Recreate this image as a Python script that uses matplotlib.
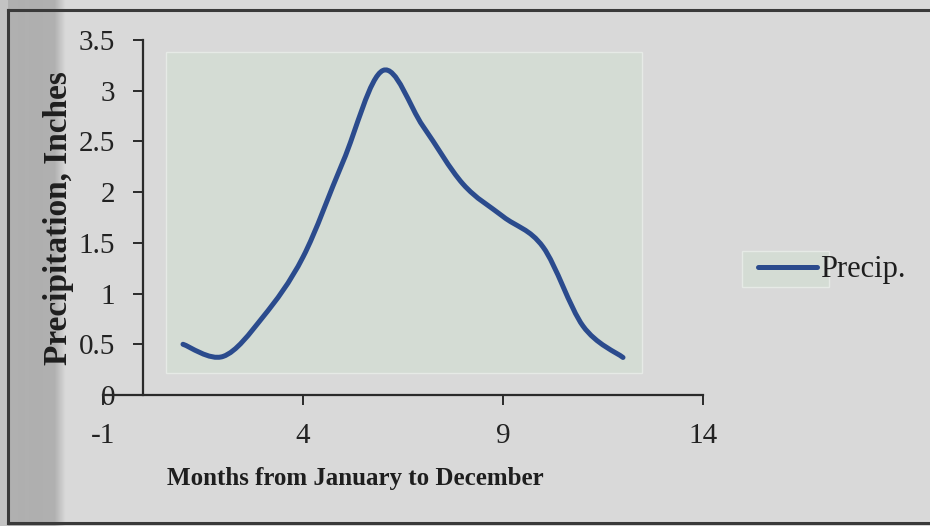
import numpy as np
import matplotlib
matplotlib.use("Agg")
import matplotlib.pyplot as plt
from matplotlib.path import Path
from matplotlib.patches import PathPatch, Rectangle
from matplotlib.lines import Line2D

plt.rcParams['font.family'] = ['Liberation Serif', 'DejaVu Serif']

# monthly precipitation (inches), Jan..Dec
months = [1, 2, 3, 4, 5, 6, 7, 8, 9, 10, 11, 12]
precip = [0.50, 0.38, 0.77, 1.36, 2.30, 3.20, 2.65, 2.08, 1.76, 1.46, 0.68, 0.37]

x_ticks = [-1, 4, 9, 14]
y_ticks = [0, 0.5, 1, 1.5, 2, 2.5, 3, 3.5]
y_tick_labels = ['0', '0.5', '1', '1.5', '2', '2.5', '3', '3.5']

line_col = '#2b4b8d'
bg_col = '#d9d9d9'
area_col = '#d4dcd4'
ink = '#2a2a2a'


def smooth_path(x, y):
    # spreadsheet-style smoothed line: cubic bezier through every point
    verts = [(x[0], y[0])]
    codes = [Path.MOVETO]
    n = len(x)
    for i in range(n - 1):
        xp, yp = (x[i - 1], y[i - 1]) if i > 0 else (x[i], y[i])
        xn, yn = (x[i + 2], y[i + 2]) if i + 2 < n else (x[i + 1], y[i + 1])
        c1 = (x[i] + (x[i + 1] - xp) / 6.0, y[i] + (y[i + 1] - yp) / 6.0)
        c2 = (x[i + 1] - (xn - x[i]) / 6.0, y[i + 1] - (yn - y[i]) / 6.0)
        verts += [c1, c2, (x[i + 1], y[i + 1])]
        codes += [Path.CURVE4] * 3
    return Path(verts, codes)


fig = plt.figure(figsize=(9.3, 5.26), dpi=100)
fig.patch.set_facecolor(bg_col)

# page background: darker strip on the left edge
bg = fig.add_axes([0, 0, 1, 1], zorder=-10)
bg.set_axis_off()
prof = np.full(930, 217.0)
prof[:8] = 196
prof[8:54] = 176
prof[54:66] = np.linspace(176, 217, 12)
bg.imshow(np.tile(prof, (526, 1)), cmap='gray', vmin=0, vmax=255,
          aspect='auto', extent=[0, 1, 0, 1])
bg.set_xlim(0, 1)
bg.set_ylim(0, 1)

# outer frame lines
fig.add_artist(Line2D([8 / 930, 8 / 930], [1 - 523 / 526, 1 - 10 / 526],
                      color='#3a3a3a', lw=2.2, transform=fig.transFigure))
fig.add_artist(Line2D([8 / 930, 1], [1 - 10 / 526, 1 - 10 / 526],
                      color='#3a3a3a', lw=2.2, transform=fig.transFigure))
fig.add_artist(Line2D([8 / 930, 1], [1 - 523 / 526, 1 - 523 / 526],
                      color='#3a3a3a', lw=2.2, transform=fig.transFigure))

# plot area fill
fig.add_artist(Rectangle((166 / 930, 1 - 373 / 526), 476 / 930, 321 / 526,
                         facecolor=area_col, edgecolor='#e6eae6', lw=1,
                         transform=fig.transFigure, zorder=0))
# small box behind the legend key
fig.add_artist(Rectangle((742 / 930, 1 - 287 / 526), 87 / 930, 36 / 526,
                         facecolor=area_col, edgecolor='#e6eae6', lw=1,
                         transform=fig.transFigure, zorder=0))

ax = fig.add_axes([103 / 930, 1 - 395 / 526, 600 / 930, 355 / 526])
ax.set_facecolor('none')
ax.set_xlim(-1, 14)
ax.set_ylim(0, 3.5)

ax.add_patch(PathPatch(smooth_path(months, precip), facecolor='none',
                       edgecolor=line_col, lw=3.6, capstyle='round',
                       joinstyle='round', zorder=3))

for s in ['top', 'right']:
    ax.spines[s].set_visible(False)
ax.spines['left'].set_position(('data', 0))
for s in ['left', 'bottom']:
    ax.spines[s].set_color(ink)
    ax.spines[s].set_linewidth(1.6)

ax.set_xticks(x_ticks)
ax.set_xticklabels([str(t) for t in x_ticks])
ax.set_yticks(y_ticks)
ax.set_yticklabels(y_tick_labels)
ax.tick_params(axis='y', direction='out', length=7, width=1.4, color=ink,
               labelsize=21, pad=13, labelcolor='#222222')
ax.tick_params(axis='x', direction='out', length=7, width=1.4, color=ink,
               labelsize=21, pad=13, labelcolor='#222222')

fig.text(59 / 930, 1 - 218 / 526, 'Precipitation, Inches', rotation=90,
         ha='center', va='center', fontsize=24, fontweight='bold', color='#1e1e1e')
fig.text(355 / 930, 1 - 479 / 526, 'Months from January to December',
         ha='center', va='center', fontsize=18, fontweight='bold', color='#1e1e1e')

handle = Line2D([], [], color=line_col, lw=3.6, solid_capstyle='round')
ax.legend([handle], ['Precip.'], loc='center left',
          bbox_to_anchor=(758 / 930, 1 - 270 / 526), bbox_transform=fig.transFigure,
          frameon=False, fontsize=22, handlelength=1.93, handletextpad=0.1,
          borderpad=0, borderaxespad=0, labelcolor='#1e1e1e')

fig.savefig('out.png', dpi=100, facecolor=fig.get_facecolor())
